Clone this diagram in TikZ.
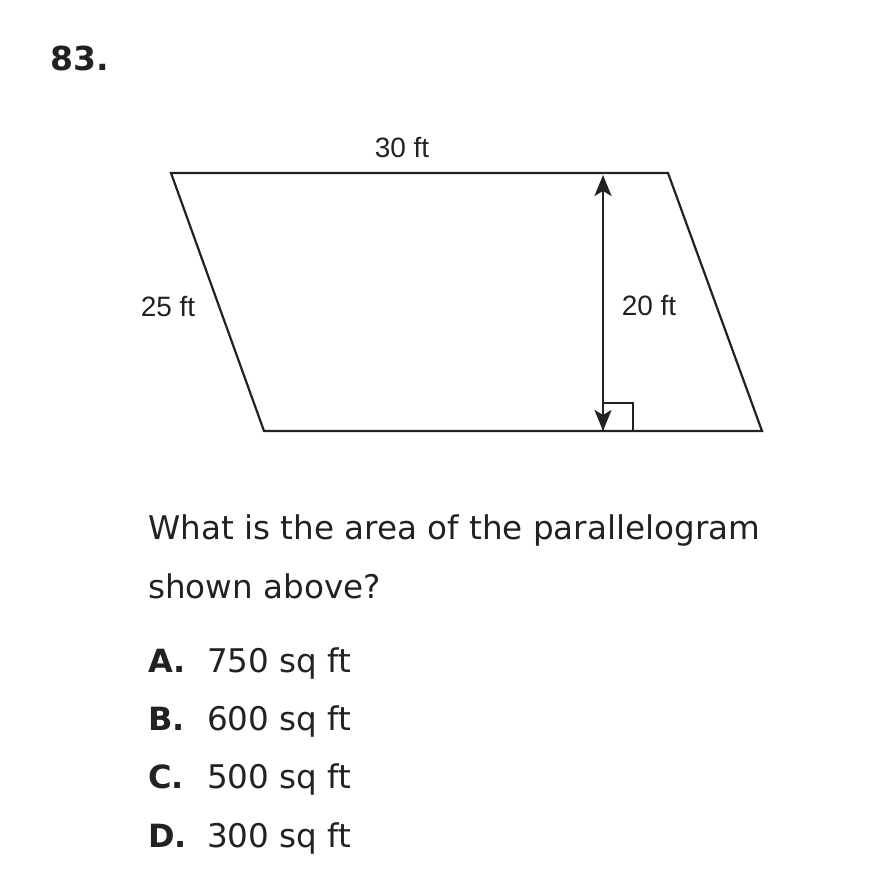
\documentclass[tikz,border=0pt]{standalone}
\usepackage{fontspec}
\setmainfont{DejaVu Sans}
\newfontfamily\dimfont{Liberation Sans}
\usetikzlibrary{arrows.meta}
\definecolor{ink}{HTML}{222222}

\begin{document}
\begin{tikzpicture}[x=1pt, y=1pt,
    tip/.tip={Stealth[length=21pt, width=17pt, inset=5pt]},
    side/.style={line width=2.2pt, draw=ink},
    dimlabel/.style={font=\dimfont\fontsize{28}{34}\selectfont, text=ink, inner sep=0pt, anchor=base},
    qtext/.style={font=\fontsize{32.6}{38}\selectfont, text=ink, inner sep=0pt, anchor=base west},
    letter/.style={qtext, font=\bfseries\fontsize{32}{38}\selectfont}]
    \useasboundingbox (0,0) rectangle (868,888);

    \node[letter, font=\bfseries\fontsize{33}{40}\selectfont] (num) at (50,817) {83.};

    % parallelogram
    \coordinate (tl) at (171,715);
    \coordinate (tr) at (668,715);
    \coordinate (br) at (762,457);
    \coordinate (bl) at (264,457);
    \draw[side] (tl) -- (tr) -- (br) -- (bl) -- cycle;

    % height
    \coordinate (htop) at (603,713);
    \coordinate (hfoot) at (603,457);
    \draw[side, tip-tip] (htop) -- (hfoot);
    \draw[side, line width=1.8pt] (603,457) rectangle (633,485);

    \node[dimlabel] (top) at (402,730) {30 ft};
    \node[dimlabel] (left) at (168,571) {25 ft};
    \node[dimlabel] (height) at (649,572) {20 ft};

    \node[qtext] (q1) at (148,348) {What is the area of the parallelogram};
    \node[qtext] (q2) at (148,289) {shown above?};

    \node[letter] (la) at (148,215) {A.};
    \node[qtext] (ca) at (207,215) {750 sq ft};
    \node[letter] (lb) at (148,157) {B.};
    \node[qtext] (cb) at (207,157) {600 sq ft};
    \node[letter] (lc) at (148,99) {C.};
    \node[qtext] (cc) at (207,99) {500 sq ft};
    \node[letter] (ld) at (148,40) {D.};
    \node[qtext] (cd) at (207,40) {300 sq ft};
\end{tikzpicture}
\end{document}
